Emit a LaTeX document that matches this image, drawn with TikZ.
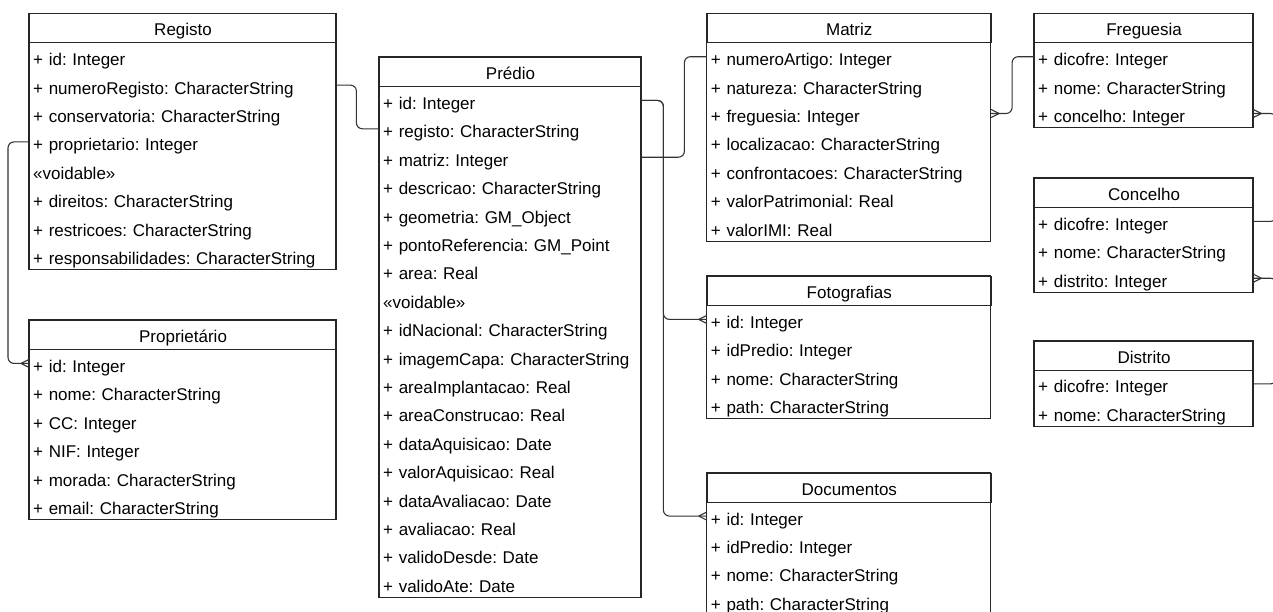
\documentclass[tikz,border=0pt]{standalone}
\usepackage{fontspec}
\setmainfont{Liberation Sans}
\frenchspacing
\begin{document}
\begin{tikzpicture}[x=1pt,y=-1pt,
  frame/.style={draw=black!85, line width=1.1pt},
  conn/.style={draw=black!80, line width=1.1pt, rounded corners=6pt},
  clstitle/.style={draw=black!85, line width=1.1pt, minimum height=29pt, inner sep=0pt,
    font=\fontsize{17}{20}\selectfont\frenchspacing, text height=17pt, text depth=2pt},
  clsrow/.style={minimum height=28.4pt, inner ysep=0pt, inner xsep=4pt, align=left,
    font=\fontsize{17}{20}\selectfont\frenchspacing, text height=20pt, text depth=2pt}]
\fill[white] (0,0) rectangle (1273,611);
\useasboundingbox (0,0) rectangle (1273,611);
\newcommand\umlclass[6]{%
  \node[clstitle, minimum width=#4pt, anchor=north west] (#1) at (#2,#3) {#5};
  \pgfmathsetmacro\tw{#4-8}
  \foreach \r [count=\i] in {#6} {
    \node[clsrow, text width=\tw pt, anchor=north west] (#1-\i) at (#2,#3+29+\i*28.4-28.4) {\r};
    \xdef\nrows{\i}
  }
  \draw[frame] (#2,#3) rectangle (#2+#4,#3+29+\nrows*28.4);
}
\newcommand\crowfoot[2]{%
  \draw[draw=black!80, line width=1.1pt] ([xshift=#2*8pt]#1) -- ([yshift=4pt]#1)
    ([xshift=#2*8pt]#1) -- ([yshift=-4pt]#1);
}
\umlclass{registo}{29}{13.3}{307}{Registo}{+ id: Integer, + numeroRegisto: CharacterString, + conservatoria: CharacterString, + proprietario: Integer, «voidable», + direitos: CharacterString, + restricoes: CharacterString, + responsabilidades: CharacterString}
\umlclass{proprietario}{29}{320}{307}{Proprietário}{+ id: Integer, + nome: CharacterString, + CC: Integer, + NIF: Integer, + morada: CharacterString, + email: CharacterString}
\umlclass{predio}{379}{57}{262}{Prédio}{+ id: Integer, + registo: CharacterString, + matriz: Integer, + descricao: CharacterString, + geometria: GM\_Object, + pontoReferencia: GM\_Point, + area: Real, «voidable», + idNacional: CharacterString, + imagemCapa: CharacterString, + areaImplantacao: Real, + areaConstrucao: Real, + dataAquisicao: Date, + valorAquisicao: Real, + dataAvaliacao: Date, + avaliacao: Real, + validoDesde: Date, + validoAte: Date}
\umlclass{matriz}{706.7}{13.3}{284}{Matriz}{+ numeroArtigo: Integer, + natureza: CharacterString, + freguesia: Integer, + localizacao: CharacterString, + confrontacoes: CharacterString, + valorPatrimonial: Real, + valorIMI: Real}
\umlclass{fotografias}{706.7}{276}{284}{Fotografias}{+ id: Integer, + idPredio: Integer, + nome: CharacterString, + path: CharacterString}
\umlclass{documentos}{706.7}{472.7}{284}{Documentos}{+ id: Integer, + idPredio: Integer, + nome: CharacterString, + path: CharacterString}
\umlclass{freguesia}{1034}{13.3}{219}{Freguesia}{+ dicofre: Integer, + nome: CharacterString, + concelho: Integer}
\umlclass{concelho}{1034}{178}{219}{Concelho}{+ dicofre: Integer, + nome: CharacterString, + distrito: Integer}
\umlclass{distrito}{1034}{340.5}{219}{Distrito}{+ dicofre: Integer, + nome: CharacterString}
% connectors
\draw[conn] (registo-2.east) -- ++(20,0) |- (predio-2.west);
\draw[conn] (registo-4.west) -- ++(-21,0) |- (proprietario-1.west);
\crowfoot{proprietario-1.west}{-1}
\draw[conn] (predio-1.east) -- ++(22,0) |- (fotografias-1.west);
\crowfoot{fotografias-1.west}{-1}
\draw[conn] (predio-1.east) -- ++(22,0) |- (documentos-1.west);
\crowfoot{documentos-1.west}{-1}
\draw[conn] (predio-3.east) -- ++(43,0) |- (matriz-1.west);
\draw[conn] (matriz-3.east) -- ++(21,0) |- (freguesia-1.west);
\crowfoot{matriz-3.east}{1}
\draw[conn] (freguesia-3.east) -- ++(23,0) |- (concelho-1.east);
\crowfoot{freguesia-3.east}{1}
\draw[conn] (concelho-3.east) -- ++(23,0) |- (distrito-1.east);
\crowfoot{concelho-3.east}{1}
\end{tikzpicture}
\end{document}
